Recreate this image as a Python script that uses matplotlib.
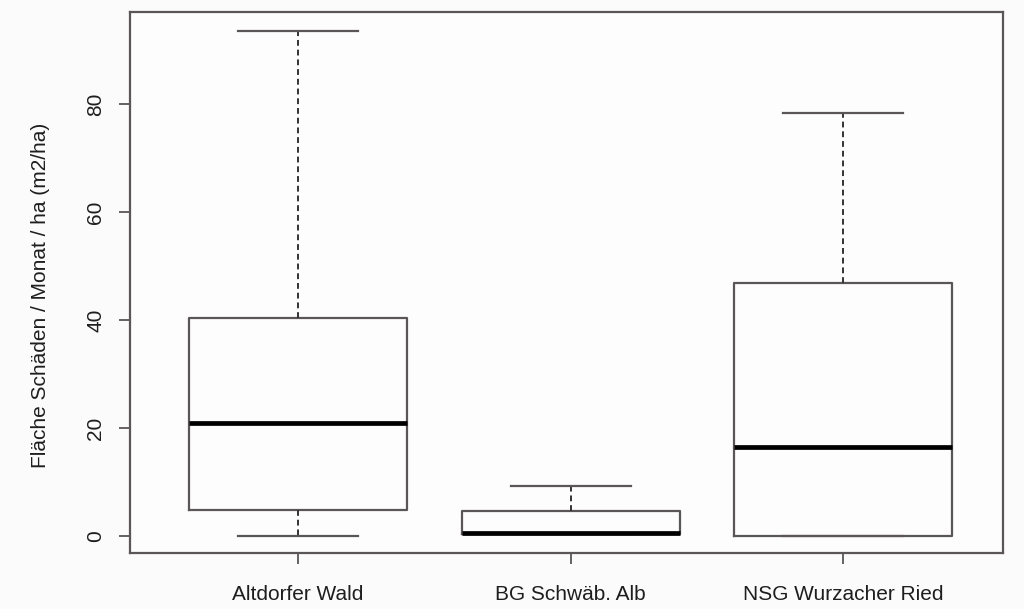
import matplotlib
matplotlib.use("Agg")
import matplotlib.pyplot as plt

plt.rcParams['font.family'] = ['Liberation Sans', 'DejaVu Sans']

# Box statistics per site (m2/ha per month)
sites = ["Altdorfer Wald", "BG Schwäb. Alb", "NSG Wurzacher Ried"]
whisker_low = [0.0, 0.3, 0.0]
q1 = [4.8, 0.3, 0.0]
median = [20.9, 0.6, 16.5]
q3 = [40.4, 4.6, 46.9]
whisker_high = [93.5, 9.3, 78.3]
y_ticks = [0, 20, 40, 60, 80]

stats = [
    dict(label=s, whislo=lo, q1=a, med=m, q3=b, whishi=hi, fliers=[])
    for s, lo, a, m, b, hi in zip(sites, whisker_low, q1, median, q3, whisker_high)
]

line_col = "#5a5556"
text_col = "#1e1e1e"
fs = 15
fig = plt.figure(figsize=(10.24, 6.09), dpi=100, facecolor="#fbfbfb")
ax = fig.add_axes([0.127, 0.092, 0.8525, 0.888])
ax.set_facecolor("#fdfdfd")

ax.bxp(
    stats, positions=[1, 2, 3], widths=0.8,
    boxprops=dict(color=line_col, linewidth=1.6),
    medianprops=dict(color="black", linewidth=3.4, solid_capstyle="butt"),
    whiskerprops=dict(color="#333333", linewidth=1.4, linestyle=(0, (3, 2))),
    capprops=dict(color=line_col, linewidth=1.6),
    capwidths=0.44, showfliers=False,
)

ax.set_xlim(0.383, 3.587)
ax.set_ylim(-3.15, 97.0)
ax.set_xticks([1, 2, 3])
ax.set_xticklabels(sites, fontsize=fs, color=text_col)
ax.set_yticks(y_ticks)
ax.set_yticklabels([str(t) for t in y_ticks], rotation=90, va="center",
                   fontsize=fs, color=text_col)
ax.tick_params(axis="both", direction="out", length=8, width=1.3,
               colors=line_col, labelcolor=text_col)
ax.tick_params(axis="x", pad=15)
ax.tick_params(axis="y", pad=10)
for sp in ax.spines.values():
    sp.set_color(line_col)
    sp.set_linewidth(1.6)

ax.set_ylabel("Fläche Schäden / Monat / ha (m2/ha)", fontsize=fs, color=text_col)
ax.yaxis.set_label_coords(-0.092, 0.477)

fig.savefig("out.png", dpi=100, facecolor=fig.get_facecolor())
